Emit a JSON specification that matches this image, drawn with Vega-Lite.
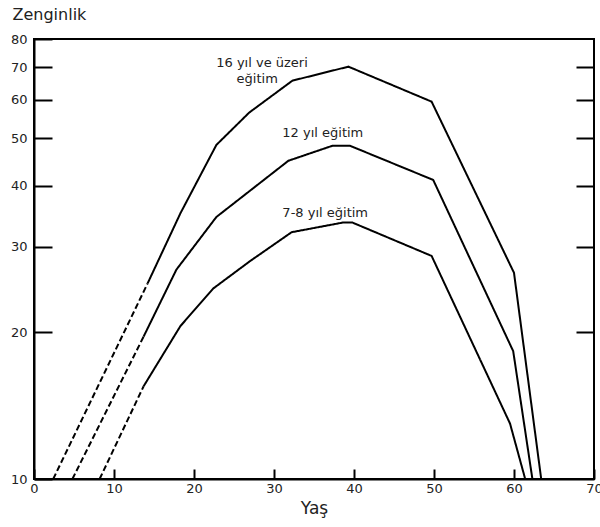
{
  "$schema": "https://vega.github.io/schema/vega-lite/v6.json",
  "autosize": {"type": "none"},
  "padding": {"left": 34, "top": 39, "right": 6, "bottom": 48},
  "width": 560,
  "height": 440,
  "background": "white",
  "config": {
    "font": "DejaVu Sans",
    "view": {"stroke": "black", "strokeWidth": 2},
    "axis": {"grid": false, "labelColor": "#222", "titleColor": "#222", "domainColor": "black", "tickColor": "black", "domainWidth": 2, "tickWidth": 2, "labelFontSize": 13, "titleFontWeight": "normal"}
  },
  "resolve": {"axis": {"y": "independent"}},
  "layer": [
    {
      "data": {"values": [
        {"s": "16+", "seg": "dashed", "age": 2.4, "w": 10},
        {"s": "16+", "seg": "dashed", "age": 14.2, "w": 25.2},
        {"s": "16+", "seg": "solid", "age": 14.2, "w": 25.2},
        {"s": "16+", "seg": "solid", "age": 18.3, "w": 35.1},
        {"s": "16+", "seg": "solid", "age": 22.8, "w": 48.5},
        {"s": "16+", "seg": "solid", "age": 26.9, "w": 56.5},
        {"s": "16+", "seg": "solid", "age": 32.3, "w": 65.7},
        {"s": "16+", "seg": "solid", "age": 39.3, "w": 70.2},
        {"s": "16+", "seg": "solid", "age": 49.7, "w": 59.5},
        {"s": "16+", "seg": "solid", "age": 60.0, "w": 26.5},
        {"s": "16+", "seg": "solid", "age": 63.4, "w": 10},
        {"s": "12", "seg": "dashed", "age": 4.8, "w": 10},
        {"s": "12", "seg": "dashed", "age": 13.7, "w": 19.6},
        {"s": "12", "seg": "solid", "age": 13.7, "w": 19.6},
        {"s": "12", "seg": "solid", "age": 17.8, "w": 26.9},
        {"s": "12", "seg": "solid", "age": 22.8, "w": 34.5},
        {"s": "12", "seg": "solid", "age": 31.8, "w": 45.0},
        {"s": "12", "seg": "solid", "age": 37.3, "w": 48.3},
        {"s": "12", "seg": "solid", "age": 39.5, "w": 48.3},
        {"s": "12", "seg": "solid", "age": 49.9, "w": 41.1},
        {"s": "12", "seg": "solid", "age": 59.9, "w": 18.3},
        {"s": "12", "seg": "solid", "age": 62.3, "w": 10},
        {"s": "7-8", "seg": "dashed", "age": 8.2, "w": 10},
        {"s": "7-8", "seg": "dashed", "age": 13.7, "w": 15.5},
        {"s": "7-8", "seg": "solid", "age": 13.7, "w": 15.5},
        {"s": "7-8", "seg": "solid", "age": 18.3, "w": 20.6},
        {"s": "7-8", "seg": "solid", "age": 22.4, "w": 24.6},
        {"s": "7-8", "seg": "solid", "age": 27.0, "w": 28.0},
        {"s": "7-8", "seg": "solid", "age": 32.2, "w": 32.1},
        {"s": "7-8", "seg": "solid", "age": 38.6, "w": 33.6},
        {"s": "7-8", "seg": "solid", "age": 39.8, "w": 33.6},
        {"s": "7-8", "seg": "solid", "age": 49.7, "w": 28.7},
        {"s": "7-8", "seg": "solid", "age": 59.5, "w": 13.0},
        {"s": "7-8", "seg": "solid", "age": 61.4, "w": 10}
      ]},
      "mark": {"type": "line", "color": "black", "strokeWidth": 2},
      "encoding": {
        "x": {"field": "age", "type": "quantitative", "scale": {"domain": [0, 70], "nice": false, "zero": false},
          "axis": {"values": [0, 10, 20, 30, 40, 50, 60, 70], "tickSize": -10, "labelPadding": 13, "labelFlush": false, "labelOverlap": false, "title": "Yaş", "titleFontSize": 17, "titleY": 34, "titleBaseline": "alphabetic"}},
        "y": {"field": "w", "type": "quantitative", "scale": {"type": "log", "domain": [10, 80], "nice": false},
          "axis": {"orient": "left", "values": [10, 20, 30, 40, 50, 60, 70, 80], "format": "d", "tickSize": -18, "labelPadding": 25, "labelOverlap": false, "title": "Zenginlik", "titleAngle": 0, "titleAlign": "left", "titleBaseline": "alphabetic", "titleX": -22, "titleY": -20, "titleFontSize": 16}},
        "detail": [{"field": "s"}, {"field": "seg"}],
        "strokeDash": {"field": "seg", "type": "nominal", "scale": {"domain": ["solid", "dashed"], "range": [[1, 0], [6, 3]]}, "legend": null}
      }
    },
    {
      "data": {"values": [
        {"label": "16 yıl ve üzeri", "age": 28.5, "w": 71.3},
        {"label": "eğitim", "age": 27.9, "w": 66.1},
        {"label": "12 yıl eğitim", "age": 36.1, "w": 51.3},
        {"label": "7-8 yıl eğitim", "age": 36.4, "w": 35.2}
      ]},
      "mark": {"type": "text", "fontSize": 13, "color": "#222", "align": "center", "baseline": "middle"},
      "encoding": {
        "x": {"field": "age", "type": "quantitative"},
        "y": {"field": "w", "type": "quantitative",
          "axis": {"orient": "right", "values": [20, 30, 40, 50, 60, 70], "labels": false, "domain": false, "tickSize": -18, "title": null}},
        "text": {"field": "label"}
      }
    }
  ]
}
